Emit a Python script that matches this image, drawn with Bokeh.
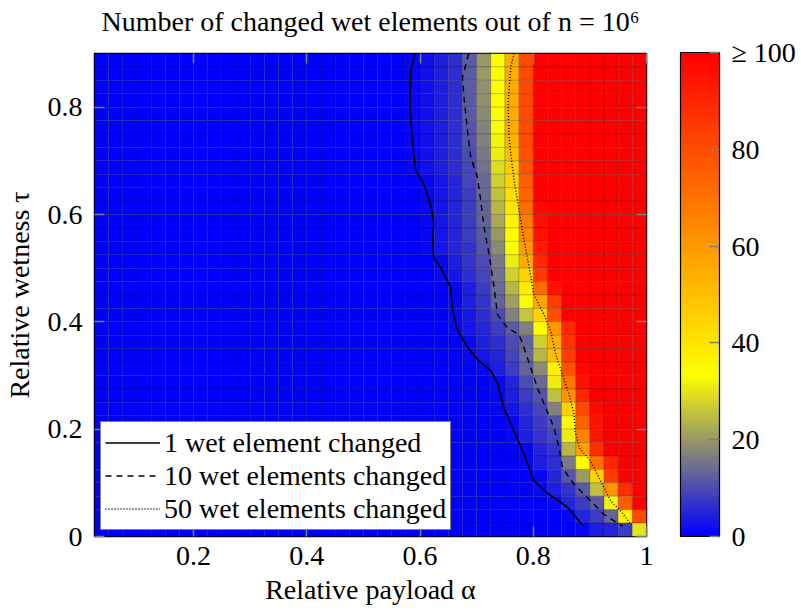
from bokeh.plotting import figure
from bokeh.models import (ColumnDataSource, LinearColorMapper, ColorBar, FixedTicker,
                          LinearAxis, Range1d, Legend, LegendItem, CustomJSTickFormatter)
from bokeh.embed import file_html
from bokeh.resources import INLINE

# ---------------- data ----------------
alpha_edges = [0.025, 0.05, 0.075, 0.1, 0.125, 0.15, 0.175, 0.2, 0.225, 0.25,
               0.275, 0.3, 0.325, 0.35, 0.375, 0.4, 0.425, 0.45, 0.475, 0.5,
               0.525, 0.55, 0.575, 0.6, 0.625, 0.65, 0.675, 0.7, 0.725, 0.75,
               0.775, 0.8, 0.825, 0.85, 0.875, 0.9, 0.925, 0.95, 0.975, 1.0]
tau_edges = [0.9, 0.875, 0.85, 0.825, 0.8, 0.775, 0.75, 0.725, 0.7, 0.675,
             0.65, 0.625, 0.6, 0.575, 0.55, 0.525, 0.5, 0.475, 0.45, 0.425,
             0.4, 0.375, 0.35, 0.325, 0.3, 0.275, 0.25, 0.225, 0.2, 0.175,
             0.15, 0.125, 0.1, 0.075, 0.05, 0.025, 0.0]

# columns alpha in [0.025, 0.525] are all zero (pure blue)
blue_left = [0, 0, 0, 0, 0, 0, 0, 0, 0, 0, 0, 0, 0, 0, 0, 0, 0, 0, 0, 0]
# columns alpha in [0.525, 1.0], one row per tau band (top -> bottom)
counts_right = [
    [0, 0, 1, 2, 4, 6, 12, 20, 33, 55, 81, 100, 100, 100, 100, 100, 100, 100, 100],
    [0, 0, 1, 2, 4, 6, 12, 20, 33, 55, 81, 100, 100, 100, 100, 100, 100, 100, 100],
    [0, 0, 1, 2, 4, 6, 12, 19, 33, 55, 81, 100, 100, 100, 100, 100, 100, 100, 100],
    [0, 0, 1, 2, 4, 6, 12, 19, 33, 55, 81, 100, 100, 100, 100, 100, 100, 100, 100],
    [0, 0, 1, 2, 4, 6, 12, 18, 33, 55, 81, 100, 100, 100, 100, 100, 100, 100, 100],
    [0, 0, 1, 2, 4, 6, 11, 17, 33, 55, 81, 100, 100, 100, 100, 100, 100, 100, 100],
    [0, 0, 1, 2, 4, 6, 11, 17, 32, 53, 80, 100, 100, 100, 100, 100, 100, 100, 100],
    [0, 0, 1, 2, 4, 6, 10, 16, 31, 50, 79, 100, 100, 100, 100, 100, 100, 100, 100],
    [0, 0, 1, 2, 4, 6, 9, 15, 29, 48, 78, 100, 100, 100, 100, 100, 100, 100, 100],
    [0, 0, 0, 1, 3, 5, 9, 14, 27, 45, 76, 100, 100, 100, 100, 100, 100, 100, 100],
    [0, 0, 0, 1, 3, 5, 8, 14, 25, 42, 74, 100, 100, 100, 100, 100, 100, 100, 100],
    [0, 0, 0, 1, 3, 5, 8, 13, 24, 40, 72, 98, 100, 100, 100, 100, 100, 100, 100],
    [0, 0, 0, 1, 3, 5, 8, 13, 22, 36, 68, 96, 100, 100, 100, 100, 100, 100, 100],
    [0, 0, 0, 1, 3, 5, 8, 12, 20, 34, 65, 95, 100, 100, 100, 100, 100, 100, 100],
    [0, 0, 0, 1, 3, 5, 7, 11, 18, 33, 60, 93, 100, 100, 100, 100, 100, 100, 100],
    [0, 0, 0, 0, 1, 4, 7, 10, 16, 31, 55, 90, 100, 100, 100, 100, 100, 100, 100],
    [0, 0, 0, 0, 1, 3, 6, 9, 15, 27, 45, 85, 100, 100, 100, 100, 100, 100, 100],
    [0, 0, 0, 0, 0, 1, 4, 8, 14, 24, 38, 72, 95, 100, 100, 100, 100, 100, 100],
    [0, 0, 0, 0, 0, 1, 4, 7, 13, 21, 33, 57, 84, 100, 100, 100, 100, 100, 100],
    [0, 0, 0, 0, 0, 1, 3, 6, 10, 17, 26, 45, 80, 100, 100, 100, 100, 100, 100],
    [0, 0, 0, 0, 0, 1, 3, 5, 8, 12, 17, 33, 60, 90, 100, 100, 100, 100, 100],
    [0, 0, 0, 0, 0, 0, 1, 4, 6, 10, 13, 27, 55, 87, 100, 100, 100, 100, 100],
    [0, 0, 0, 0, 0, 0, 1, 3, 5, 9, 14, 24, 50, 84, 100, 100, 100, 100, 100],
    [0, 0, 0, 0, 0, 0, 0, 1, 4, 8, 13, 18, 37, 79, 98, 100, 100, 100, 100],
    [0, 0, 0, 0, 0, 0, 0, 0, 1, 5, 10, 14, 31, 69, 95, 100, 100, 100, 100],
    [0, 0, 0, 0, 0, 0, 0, 0, 1, 4, 8, 11, 25, 61, 90, 100, 100, 100, 100],
    [0, 0, 0, 0, 0, 0, 0, 0, 1, 3, 6, 9, 17, 45, 81, 98, 100, 100, 100],
    [0, 0, 0, 0, 0, 0, 0, 0, 0, 1, 5, 8, 11, 34, 74, 95, 100, 100, 100],
    [0, 0, 0, 0, 0, 0, 0, 0, 0, 1, 4, 7, 9, 31, 66, 95, 100, 100, 100],
    [0, 0, 0, 0, 0, 0, 0, 0, 0, 0, 1, 5, 7, 24, 58, 88, 100, 100, 100],
    [0, 0, 0, 0, 0, 0, 0, 0, 0, 0, 1, 4, 6, 16, 34, 71, 90, 100, 100],
    [0, 0, 0, 0, 0, 0, 0, 0, 0, 0, 0, 1, 5, 11, 20, 45, 84, 100, 100],
    [0, 0, 0, 0, 0, 0, 0, 0, 0, 0, 0, 1, 4, 7, 12, 25, 61, 88, 100],
    [0, 0, 0, 0, 0, 0, 0, 0, 0, 0, 0, 0, 1, 5, 8, 12, 32, 76, 100],
    [0, 0, 0, 0, 0, 0, 0, 0, 0, 0, 0, 0, 0, 1, 5, 8, 13, 37, 81],
    [0, 0, 0, 0, 0, 0, 0, 0, 0, 0, 0, 0, 0, 0, 1, 4, 5, 8, 30],
]

# contour lines (alpha, tau)
c1_alpha = [0.5906, 0.5835, 0.5822, 0.5865, 0.5923, 0.6065, 0.6188, 0.6241, 0.6224, 0.6241,
            0.6365, 0.6542, 0.6577, 0.6666, 0.6842, 0.7037, 0.7249, 0.7373, 0.7479, 0.7656,
            0.7832, 0.8009, 0.8257, 0.8610, 0.8875]
c1_tau = [0.9, 0.8678, 0.7995, 0.7374, 0.6816, 0.6574, 0.6182, 0.5866, 0.5493, 0.5196,
          0.5009, 0.4637, 0.4209, 0.3836, 0.3520, 0.3277, 0.3091, 0.2849, 0.2402, 0.1974,
          0.1546, 0.1043, 0.0801, 0.0540, 0.0205]
c10_alpha = [0.6860, 0.6749, 0.6777, 0.6837, 0.6896, 0.7014, 0.7072, 0.7131, 0.7219, 0.7307,
             0.7367, 0.7544, 0.7749, 0.7838, 0.7956, 0.8074, 0.8221, 0.8368, 0.8456, 0.8516,
             0.8721, 0.8958, 0.9251, 0.9577]
c10_tau = [0.9, 0.8553, 0.8181, 0.7561, 0.7063, 0.6691, 0.6257, 0.5760, 0.5264, 0.4642,
           0.4134, 0.3886, 0.3762, 0.3514, 0.3142, 0.2769, 0.2397, 0.2024, 0.1652, 0.1279,
           0.0968, 0.0721, 0.0410, 0.0192]
c50_alpha = [0.7661, 0.7602, 0.7555, 0.7572, 0.7602, 0.7661, 0.7749, 0.7838, 0.7926, 0.7986,
             0.8014, 0.8191, 0.8309, 0.8398, 0.8516, 0.8633, 0.8721, 0.8739, 0.8810, 0.9016,
             0.9193, 0.9370, 0.9547, 0.9723]
c50_tau = [0.9, 0.8747, 0.8063, 0.7443, 0.7132, 0.6635, 0.6076, 0.5518, 0.5022, 0.4650,
           0.4507, 0.4134, 0.3823, 0.3389, 0.3017, 0.2644, 0.2272, 0.1961, 0.1652, 0.1402,
           0.1030, 0.0657, 0.0471, 0.0223]

title_text = "Number of changed wet elements out of n = 10\u2076"
legend_labels = ["1 wet element changed", "10 wet elements changed", "50 wet elements changed"]
x_ticks = [0.2, 0.4, 0.6, 0.8, 1.0]
y_ticks = [0.0, 0.2, 0.4, 0.6, 0.8]
cb_ticks = [0, 20, 40, 60, 80, 100]

# ---------------- build ----------------
FONT = "Liberation Serif"
FS = "28px"

counts = [blue_left + row for row in counts_right]
left, right, top, bottom, val = [], [], [], [], []
for r, row in enumerate(counts):
    assert len(row) == 39
    for c, v in enumerate(row):
        left.append(alpha_edges[c]); right.append(alpha_edges[c + 1])
        top.append(tau_edges[r]); bottom.append(tau_edges[r + 1])
        val.append(v)
src = ColumnDataSource(dict(left=left, right=right, top=top, bottom=bottom, val=val))

def lerp(a, b, t):
    return tuple(int(round(a[i] + (b[i] - a[i]) * t)) for i in range(3))

blue, yellow, red = (0, 0, 255), (255, 255, 0), (255, 0, 0)
palette = []
for i in range(256):
    f = i / 255.0
    if f <= 1 / 3:
        col = lerp(blue, yellow, f * 3)
    else:
        col = lerp(yellow, red, (f - 1 / 3) * 1.5)
    palette.append("#%02x%02x%02x" % col)
mapper = LinearColorMapper(palette=palette, low=0, high=100)

p = figure(width=801, height=613, x_range=Range1d(0.025, 1.0), y_range=Range1d(0, 0.9),
           output_backend="svg", toolbar_location=None,
           min_border_left=94, min_border_right=155, min_border_top=53, min_border_bottom=77)

p.quad(left="left", right="right", top="top", bottom="bottom", source=src,
       fill_color={"field": "val", "transform": mapper},
       line_color="black", line_alpha=0.18, line_width=1)

r1 = p.line(c1_alpha, c1_tau, line_color="black", line_width=1.6)
r10 = p.line(c10_alpha, c10_tau, line_color="black", line_width=1.4, line_dash="6 5")
r50 = p.line(c50_alpha, c50_tau, line_color="black", line_width=1.4, line_dash="1 2")

num_fmt = CustomJSTickFormatter(code="return String(Math.round(tick*10)/10);")

for ax in (p.xaxis[0], p.yaxis[0]):
    ax.formatter = num_fmt
    ax.axis_line_color = None
    ax.major_tick_in = 10
    ax.major_tick_out = 0
    ax.major_tick_line_color = "#808080"
    ax.major_tick_line_width = 1.5
    ax.minor_tick_line_color = None
    ax.major_label_text_font = FONT
    ax.major_label_text_font_size = FS
    ax.major_label_text_color = "black"
    ax.axis_label_text_font = FONT
    ax.axis_label_text_font_size = FS
    ax.axis_label_text_font_style = "normal"
    ax.axis_label_text_color = "black"
p.xaxis.ticker = FixedTicker(ticks=x_ticks)
p.yaxis.ticker = FixedTicker(ticks=y_ticks)
p.xaxis.axis_label = "Relative payload α"
p.yaxis.axis_label = "Relative wetness τ"
p.xaxis.major_label_standoff = 10
p.yaxis.major_label_standoff = 12
p.xaxis.axis_label_standoff = 6
p.yaxis.axis_label_standoff = 10

def blank_axis(ticks):
    return LinearAxis(ticker=FixedTicker(ticks=ticks), major_label_text_alpha=0,
                      major_label_text_font_size="1px", axis_line_color=None,
                      major_tick_in=10, major_tick_out=0, major_tick_line_color="#808080",
                      major_tick_line_width=1.5, minor_tick_line_color=None,
                      major_label_standoff=0)

# top axis carries the inward ticks and the chart title (as its label)
top_axis = blank_axis(x_ticks)
top_axis.axis_label = title_text
top_axis.axis_label_text_font = FONT
top_axis.axis_label_text_font_size = FS
top_axis.axis_label_text_font_style = "normal"
top_axis.axis_label_text_color = "black"
top_axis.axis_label_standoff = 17
p.add_layout(top_axis, "above")
p.add_layout(blank_axis(y_ticks), "right")

p.xgrid.visible = False
p.ygrid.visible = False
p.outline_line_color = "black"
p.outline_line_width = 1.5

p.title.text = ""

legend = Legend(items=[LegendItem(label=legend_labels[0], renderers=[r1]),
                       LegendItem(label=legend_labels[1], renderers=[r10]),
                       LegendItem(label=legend_labels[2], renderers=[r50])],
                location="bottom_left", label_text_font=FONT, label_text_font_size=FS,
                label_text_color="black",
                border_line_color="black", border_line_width=1.5, background_fill_alpha=1,
                glyph_width=55, glyph_height=33, label_height=33, spacing=0, padding=4,
                margin=6, label_standoff=4)
p.add_layout(legend)

cb_fmt = CustomJSTickFormatter(code="return tick >= 100 ? '\u2265 100' : String(tick);")
cb = ColorBar(color_mapper=mapper, ticker=FixedTicker(ticks=cb_ticks), formatter=cb_fmt,
              width=39, height=484, location=(34, 0), margin=0, padding=0,
              bar_line_color="black", bar_line_width=1.2,
              major_tick_in=10, major_tick_out=0, major_tick_line_color="#808080",
              major_tick_line_width=1.5, minor_tick_line_color=None,
              major_label_text_font=FONT, major_label_text_font_size=FS,
              major_label_text_color="black",
              label_standoff=12, background_fill_alpha=0, border_line_color=None)
p.add_layout(cb, "right")

open("out.html", "w").write(file_html(p, INLINE))
